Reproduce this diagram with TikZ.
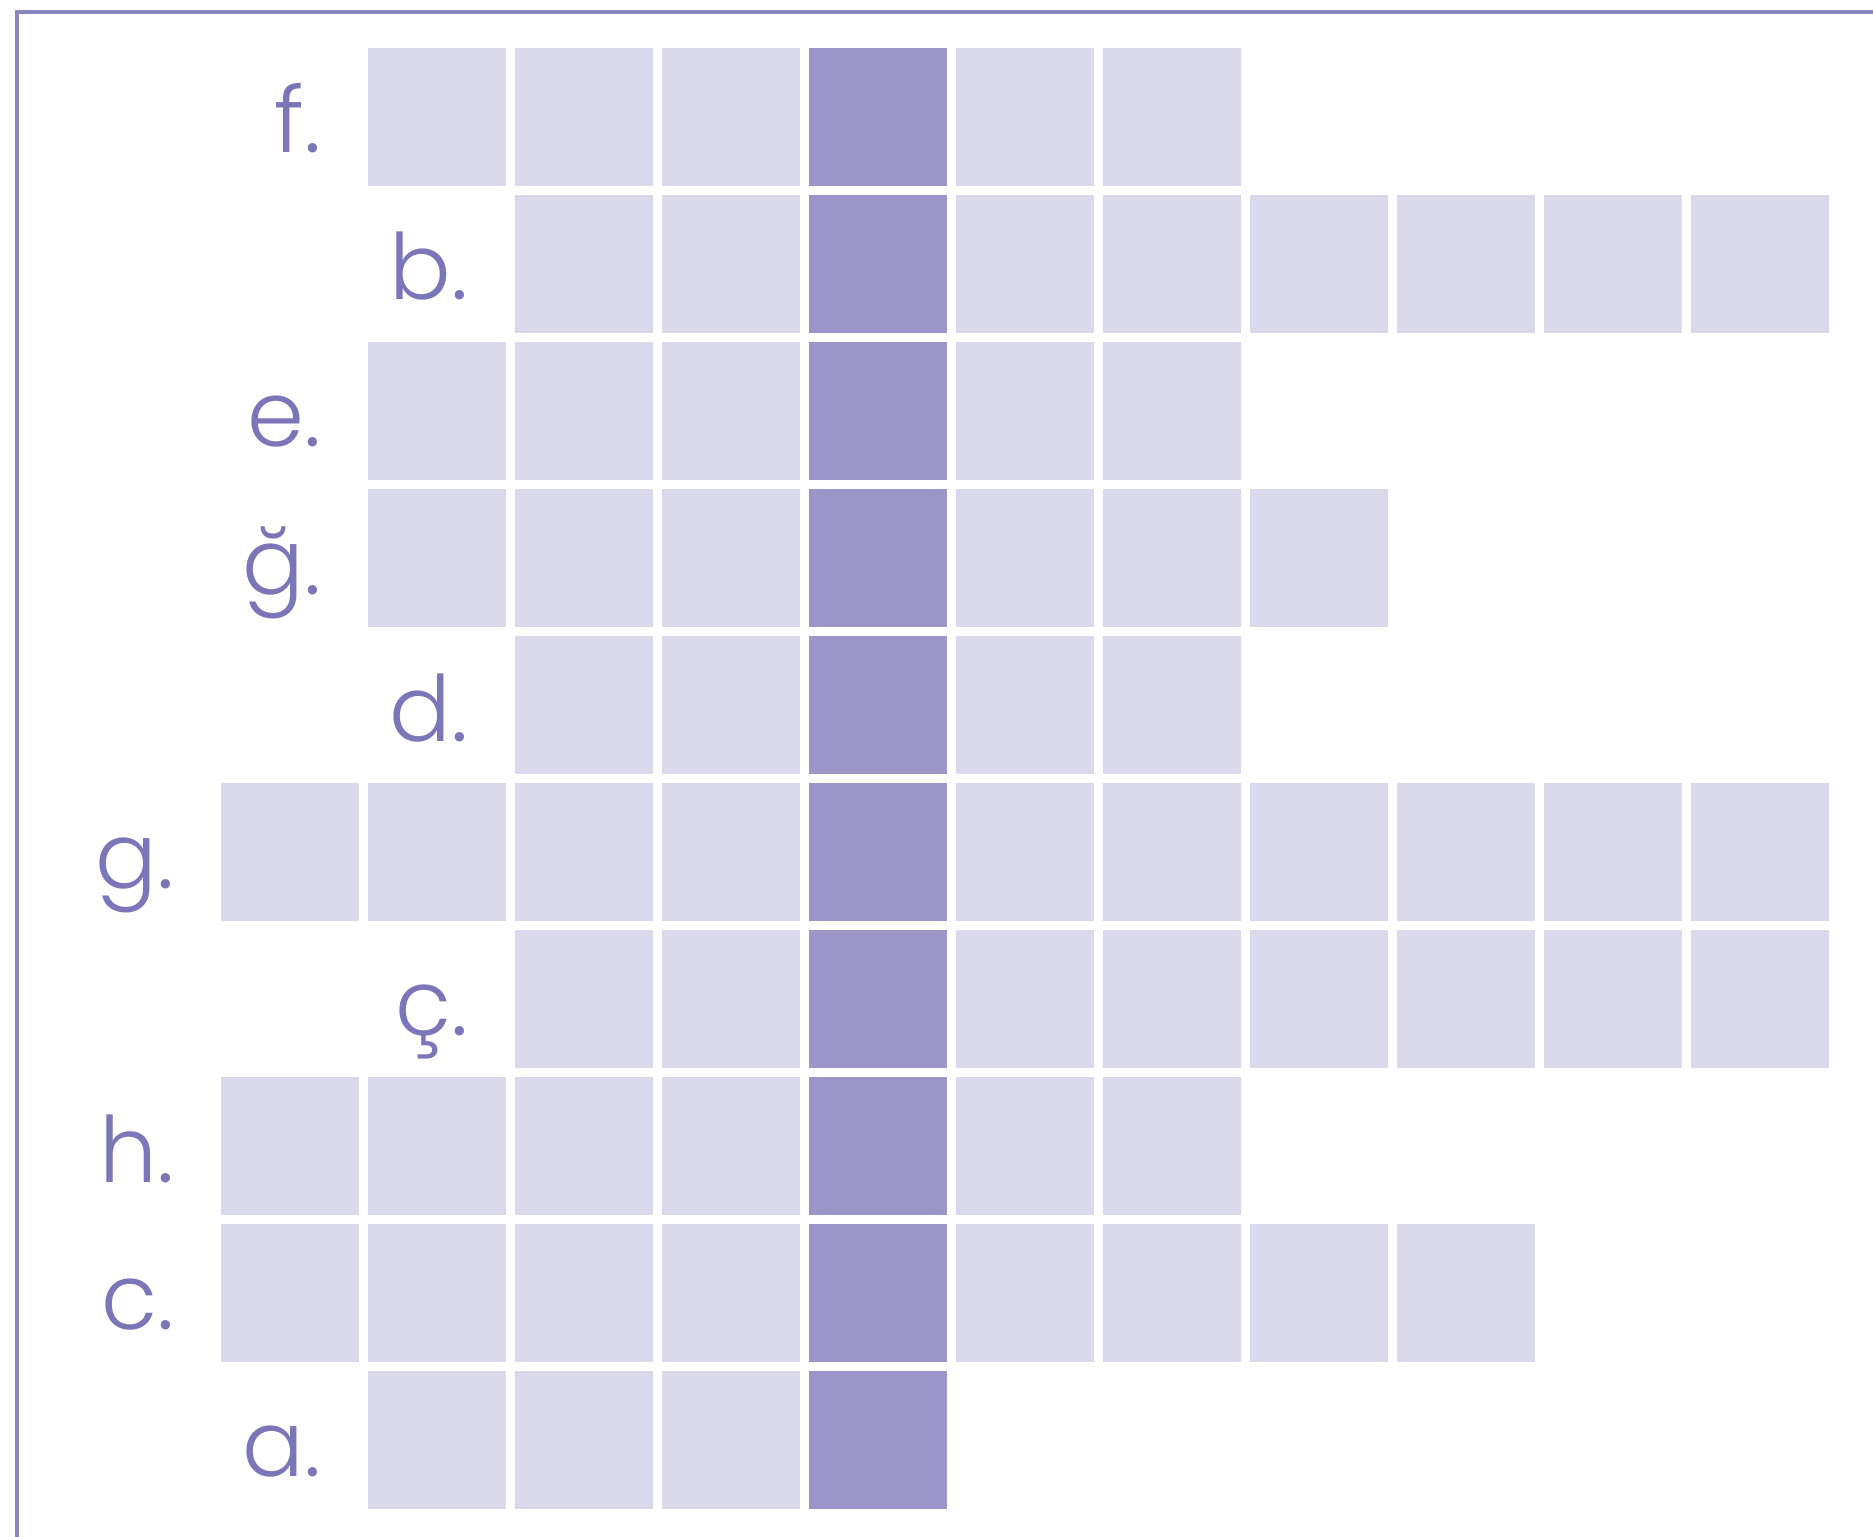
\documentclass[tikz,border=0pt]{standalone}
\usepackage{fontspec}
\setmainfont{Poppins Light}
\usetikzlibrary{positioning}
\definecolor{Lilac}{HTML}{DAD9EC}
\definecolor{Violet}{HTML}{9B95C8}
\definecolor{Ink}{HTML}{7B76B8}
\definecolor{Edge}{HTML}{8A86C0}

\begin{document}
\begin{tikzpicture}[x=0.01cm,y=-0.01cm,
cell/.style={fill=Lilac,minimum size=1.38cm,inner sep=0pt},
key/.style={fill=Violet,minimum size=1.38cm,inner sep=0pt},
clue/.style={text=Ink,font=\fontsize{26}{30}\selectfont,anchor=base east,inner sep=0pt},
frame/.style={draw=Edge,line width=0.04cm}]
\useasboundingbox (0,0) rectangle (1873,1537);
\draw[frame] (1873,12) -- (17,12) -- (17,1537);
% row / clue / first cell / last cell
\foreach \r/\lbl/\first/\last in {0/f./1/6,1/b./2/10,2/e./1/6,3/ğ./1/7,4/d./2/6,5/g./0/10,6/ç./2/10,7/h./0/6,8/c./0/8,9/a./1/4}{
  \foreach \c in {\first,...,\last}{
    \ifnum\c=4 \node[key](r\r c\c) at (290+147*\c,117+147*\r){};
    \else \node[cell](r\r c\c) at (290+147*\c,117+147*\r){};\fi}
  \node[clue](clue\r) at (175+147*\first,153+147*\r){\lbl};
}
\end{tikzpicture}
\end{document}
